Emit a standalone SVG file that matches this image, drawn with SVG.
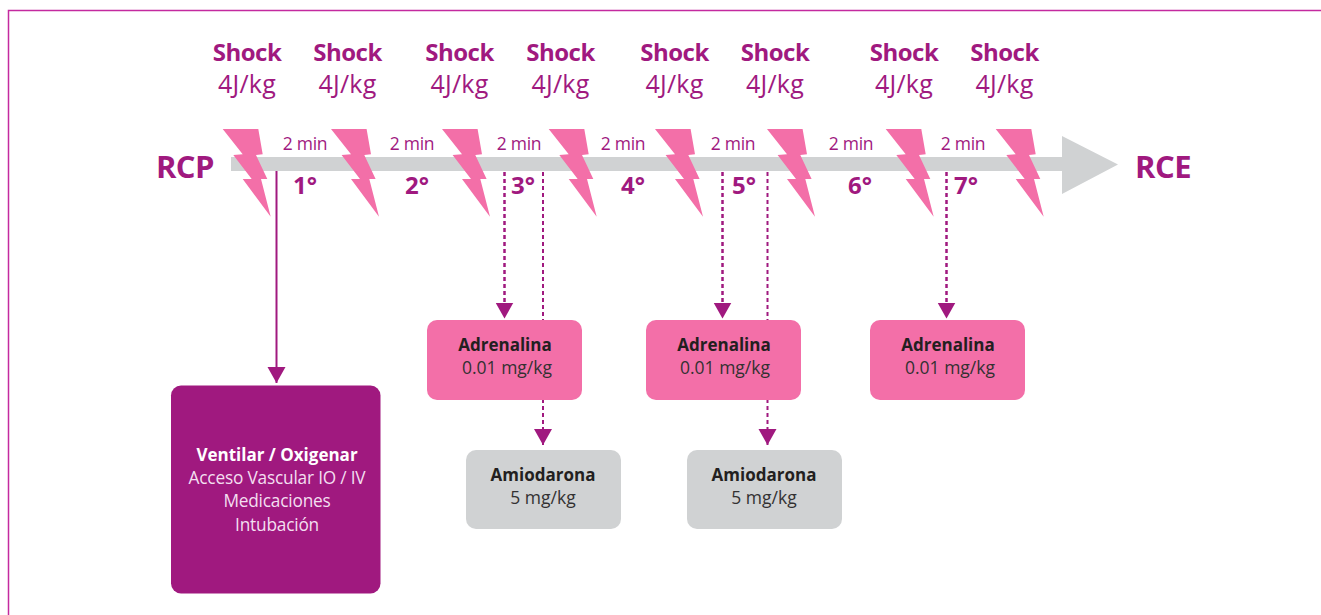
<svg xmlns="http://www.w3.org/2000/svg" width="1321" height="615" viewBox="0 0 1321 615">
<style>
text{font-family:"Open Sans","Noto Sans","Liberation Sans",sans-serif;text-anchor:middle}
.sh{font-size:24px;font-weight:700;fill:#a0197f;letter-spacing:-.5px}
.j{font-size:25px;fill:#a0197f;letter-spacing:.2px}
.m{font-size:17.500px;fill:#a0197f;letter-spacing:-.3px}
.n{font-size:24px;font-weight:700;fill:#a0197f}
.end{font-size:31px;font-weight:700;fill:#a0197f;letter-spacing:-.5px}
.b{font-size:17px;font-weight:700;fill:#231f20}
.r{font-size:17.500px;fill:#333132;letter-spacing:0}
.w{font-size:17.300px;fill:#f3dff0;letter-spacing:-.2px}
.wb{font-size:17px;font-weight:700;fill:#fff}
.dash{stroke:#a0197f;stroke-width:2;stroke-dasharray:4 3;fill:none}
.thick{stroke-width:2.500}
</style>
<defs>
<polygon id="bolt" fill="#f36fa8" points="222.7,129 258.3,129 262.7,154.3 256,155 267.3,179 261,179 270.7,216.7 242.7,179 251.7,179 233.3,155 242.7,154.3"/>
<marker id="tip" markerUnits="userSpaceOnUse" markerWidth="18" markerHeight="19" refX="16" refY="9" orient="auto"><path d="M0,0L16,9L0,18Z" fill="#a0197f"/></marker>
</defs>
<path d="M1321,10.500H8.500V615" fill="none" stroke="#c42a9f" stroke-width="1.500"/>
<g id="timeline"><path fill="#d0d2d3" d="M231,157H1062V136L1118,164.500L1062,194V171H231Z"/></g>
<g id="connectors">
<path d="M276.500,171V383" stroke="#a0197f" stroke-width="2" marker-end="url(#tip)"/>
<path class="dash thick" d="M504.500,172V318.500" marker-end="url(#tip)"/>
<path class="dash" d="M543,172V320"/>
<path class="dash" d="M543,399V445" marker-end="url(#tip)"/>
<path class="dash thick" d="M722.500,172V318.500" marker-end="url(#tip)"/>
<path class="dash" d="M767.500,172V320"/>
<path class="dash" d="M767.500,399V445" marker-end="url(#tip)"/>
<path class="dash thick" d="M946.500,172V318.500" marker-end="url(#tip)"/>
</g>
<g id="bolts">
<use href="#bolt"/><use href="#bolt" x="108.300"/><use href="#bolt" x="219.300"/><use href="#bolt" x="326"/><use href="#bolt" x="432.300"/><use href="#bolt" x="544.300"/><use href="#bolt" x="663"/><use href="#bolt" x="773"/>
</g>
<g id="shock-labels">
<text class="sh" x="247" y="61">Shock</text><text class="j" x="247" y="93">4J/kg</text>
<text class="sh" x="347.500" y="61">Shock</text><text class="j" x="347.500" y="93">4J/kg</text>
<text class="sh" x="459.500" y="61">Shock</text><text class="j" x="459.500" y="93">4J/kg</text>
<text class="sh" x="560.500" y="61">Shock</text><text class="j" x="560.500" y="93">4J/kg</text>
<text class="sh" x="674.500" y="61">Shock</text><text class="j" x="674.500" y="93">4J/kg</text>
<text class="sh" x="775" y="61">Shock</text><text class="j" x="775" y="93">4J/kg</text>
<text class="sh" x="904" y="61">Shock</text><text class="j" x="904" y="93">4J/kg</text>
<text class="sh" x="1004.500" y="61">Shock</text><text class="j" x="1004.500" y="93">4J/kg</text>
</g>
<g id="intervals">
<text class="m" x="305" y="150">2 min</text><text class="m" x="412" y="150">2 min</text><text class="m" x="519" y="150">2 min</text><text class="m" x="623" y="150">2 min</text><text class="m" x="733" y="150">2 min</text><text class="m" x="851" y="150">2 min</text><text class="m" x="963" y="150">2 min</text>
<text class="n" x="305" y="194">1°</text><text class="n" x="417" y="194">2°</text><text class="n" x="523" y="194">3°</text><text class="n" x="633" y="194">4°</text><text class="n" x="744" y="194">5°</text><text class="n" x="860" y="194">6°</text><text class="n" x="966" y="194">7°</text>
</g>
<g id="rcp"><text class="end" x="185" y="178">RCP</text></g>
<g id="rce"><text class="end" x="1163" y="178">RCE</text></g>
<g id="adrenalina-1"><rect x="427" y="320" width="155" height="80" rx="10" fill="#f36fa8"/><text class="b" x="505" y="351">Adrenalina</text><text class="r" x="507" y="374">0.01 mg/kg</text></g>
<g id="adrenalina-2"><rect x="646" y="320" width="155" height="80" rx="10" fill="#f36fa8"/><text class="b" x="724" y="351">Adrenalina</text><text class="r" x="725" y="374">0.01 mg/kg</text></g>
<g id="adrenalina-3"><rect x="870" y="320" width="155" height="80" rx="10" fill="#f36fa8"/><text class="b" x="948" y="351">Adrenalina</text><text class="r" x="950" y="374">0.01 mg/kg</text></g>
<g id="amiodarona-1"><rect x="466" y="450" width="155" height="79" rx="10" fill="#d0d2d3"/><text class="b" x="543" y="481">Amiodarona</text><text class="r" x="543" y="504">5 mg/kg</text></g>
<g id="amiodarona-2"><rect x="687" y="450" width="155" height="79" rx="10" fill="#d0d2d3"/><text class="b" x="764" y="481">Amiodarona</text><text class="r" x="764" y="504">5 mg/kg</text></g>
<g id="ventilar"><rect x="171" y="385.500" width="209.500" height="208" rx="10" fill="#a0197f"/>
<text class="wb" x="277" y="461">Ventilar / Oxigenar</text><text class="w" x="277" y="484">Acceso Vascular IO / IV</text><text class="w" x="277" y="507">Medicaciones</text><text class="w" x="277" y="531">Intubación</text></g>
</svg>
